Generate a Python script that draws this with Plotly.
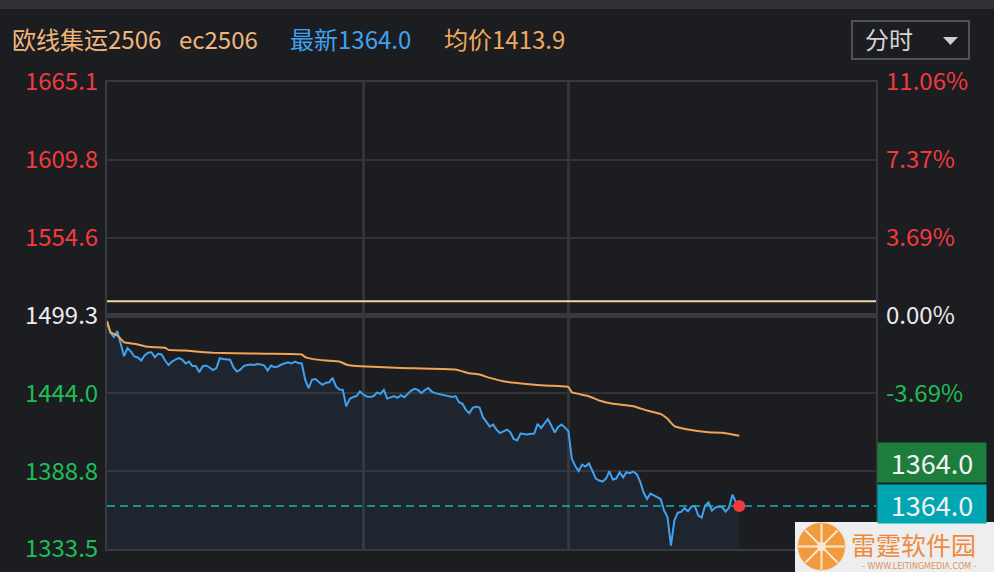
import plotly.graph_objects as go

# ---------------- data ----------------
minutes = list(range(0, 186))
price = [
    1495.0, 1487.2, 1484.0, 1488.3, 1479.4, 1470.4, 1476.2, 1473.7, 1470.2, 1469.5,
    1467.3, 1470.9, 1472.8, 1473.2, 1469.7, 1472.1, 1471.6, 1467.3, 1464.1, 1466.6,
    1468.0, 1469.0, 1468.0, 1465.2, 1466.6, 1463.4, 1463.4, 1459.0, 1463.3, 1463.8,
    1462.4, 1460.6, 1462.0, 1469.0, 1468.4, 1468.0, 1467.9, 1462.6, 1459.5, 1460.9,
    1463.4, 1464.1, 1464.5, 1464.1, 1464.8, 1464.6, 1463.8, 1460.2, 1463.8, 1462.6,
    1463.1, 1464.5, 1465.3, 1466.1, 1465.2, 1466.6, 1465.5, 1465.2, 1453.6, 1447.8,
    1453.8, 1454.2, 1452.1, 1450.1, 1451.5, 1451.9, 1455.0, 1448.9, 1446.7, 1446.5,
    1434.8, 1440.1, 1441.4, 1442.1, 1445.3, 1443.2, 1441.8, 1441.4, 1442.1, 1444.6,
    1443.7, 1446.5, 1440.3, 1441.0, 1442.1, 1440.8, 1442.7, 1441.3, 1443.9, 1446.0,
    1447.2, 1446.4, 1444.1, 1446.4, 1447.8, 1445.3, 1444.2, 1443.7, 1443.3, 1442.7,
    1441.8, 1441.4, 1442.1, 1437.7, 1436.6, 1432.3, 1430.0, 1433.7, 1434.7, 1434.0,
    1427.1, 1423.3, 1420.4, 1421.9, 1418.1, 1415.8, 1416.9, 1418.3, 1416.4, 1411.6,
    1410.5, 1415.5, 1415.1, 1414.8, 1415.3, 1415.5, 1422.4, 1419.4, 1422.6, 1425.8,
    1421.2, 1416.2, 1420.1, 1421.9, 1419.7, 1417.2, 1397.7, 1392.4, 1388.8, 1393.4,
    1392.0, 1394.2, 1389.2, 1383.5, 1382.1, 1381.4, 1383.5, 1388.7, 1382.8, 1383.5,
    1388.0, 1384.4, 1388.1, 1387.4, 1388.5, 1386.7, 1381.4, 1373.6, 1369.0, 1372.8,
    1371.5, 1370.0, 1369.0, 1360.8, 1356.2, 1335.9, 1353.7, 1359.3, 1359.8, 1362.5,
    1360.3, 1363.6, 1364.0, 1357.2, 1355.8, 1364.3, 1366.5, 1360.8, 1362.9, 1363.6,
    1363.3, 1360.1, 1362.9, 1372.1, 1366.7, 1364.0,
]
avg_minutes = [0, 1, 2, 3, 4, 5, 8, 11, 14, 17, 18, 23, 26, 31, 37, 47, 57, 58, 60, 64,
               68, 70, 72, 76, 86, 102, 106, 109, 112, 116, 122, 128, 134, 135, 136, 141,
               144, 148, 154, 158, 162, 164, 166, 170, 176, 180, 185]
avg_price = [1495.3, 1487.4, 1486.3, 1485.1, 1482.7, 1480.3, 1479.2, 1477.5, 1476.8, 1476.4,
             1474.9, 1474.4, 1473.7, 1472.8, 1472.5, 1472.1, 1471.6, 1469.7, 1468.5, 1467.3,
             1466.6, 1464.5, 1463.6, 1463.1, 1462.0, 1460.9, 1458.3, 1457.4, 1455.0, 1452.6,
             1450.8, 1449.6, 1448.9, 1448.5, 1444.8, 1442.0, 1438.9, 1436.6, 1434.9, 1431.8,
             1429.4, 1425.9, 1420.7, 1418.3, 1416.4, 1416.0, 1413.9]
ref_price = 1509.5
base_price = 1499.3
last_price = 1364.0
session_minutes = 225
session_breaks = [75, 135]
price_ticks = [1333.5, 1388.8, 1444.0, 1499.3, 1554.6, 1609.8, 1665.1]
price_tick_text = ["1333.5", "1388.8", "1444.0", "1499.3", "1554.6", "1609.8", "1665.1"]
pct_ticks = [1444.0, 1499.3, 1554.6, 1609.8, 1665.1]
pct_tick_text = ["-3.69%", "0.00%", "3.69%", "7.37%", "11.06%"]
header_name = "欧线集运2506"
header_code = "ec2506"
header_last = "最新1364.0"
header_avg = "均价1413.9"

# ---------------- style ----------------
BG = "#1c1d21"
GRID = "#333438"
RED = "#f23a3f"
GREEN = "#1cbf55"
WHITE = "#ececec"
BLUE = "#3fa2f0"
ORANGE = "#f0a455"
FONT = "Noto Sans CJK SC"

W, H = 994, 572
L, R, T, B = 107, 876, 82, 549


def px(x):
    return (x - L) / (R - L)


def py(y):
    return (B - y) / (B - T)


def col(v):
    if v > base_price + 0.01:
        return RED
    if v < base_price - 0.01:
        return GREEN
    return WHITE


left_text = [f"<span style='color:{col(v)}'>{t}</span>" for v, t in zip(price_ticks, price_tick_text)]
right_text = [f"<span style='color:{col(v)}'>{t}</span>" for v, t in zip(pct_ticks, pct_tick_text)]

fig = go.Figure()

fig.add_trace(go.Scatter(
    x=minutes, y=price, mode="lines",
    line=dict(color=BLUE, width=2),
    fill="tozeroy", fillcolor="rgba(55,95,150,0.12)",
    hoverinfo="skip", showlegend=False))
fig.add_trace(go.Scatter(
    x=avg_minutes, y=avg_price, mode="lines",
    line=dict(color=ORANGE, width=2, shape="spline", smoothing=0.3),
    hoverinfo="skip", showlegend=False))
fig.add_trace(go.Scatter(
    x=[0, session_minutes], y=[ref_price, ref_price], mode="lines",
    line=dict(color="#f6d3a4", width=2), yaxis="y2",
    hoverinfo="skip", showlegend=False))
fig.add_trace(go.Scatter(
    x=[0, session_minutes], y=[last_price, last_price], mode="lines",
    line=dict(color="#14b3be", width=1.6, dash="8px,5px"),
    hoverinfo="skip", showlegend=False))
fig.add_trace(go.Scatter(
    x=[minutes[-1]], y=[price[-1]], mode="markers",
    marker=dict(color="#f23a3f", size=12),
    hoverinfo="skip", showlegend=False))

shapes = []
# 0% baseline bar
shapes.append(dict(type="line", xref="x", yref="y", x0=0, x1=session_minutes,
                   y0=base_price, y1=base_price, layer="between",
                   line=dict(color="#393a3e", width=5)))
# top strip
shapes.append(dict(type="rect", xref="paper", yref="paper", x0=px(0), x1=px(W),
                   y0=py(9), y1=py(0), fillcolor="#303135", line=dict(width=0), layer="below"))
# dropdown box
shapes.append(dict(type="rect", xref="paper", yref="paper", x0=px(852), x1=px(969),
                   y0=py(59), y1=py(21), fillcolor="rgba(0,0,0,0)",
                   line=dict(color="#505155", width=2)))
shapes.append(dict(type="path", xref="paper", yref="paper",
                   path=f"M {px(943)},{py(37)} L {px(958)},{py(37)} L {px(950.5)},{py(45)} Z",
                   fillcolor="#cfcfcf", line=dict(width=0)))
# watermark
shapes.append(dict(type="rect", xref="paper", yref="paper", x0=px(795), x1=px(994),
                   y0=py(572), y1=py(522), fillcolor="#eceef0", line=dict(width=0)))
shapes.append(dict(type="circle", xref="paper", yref="paper", x0=px(798), x1=px(845),
                   y0=py(570), y1=py(523), fillcolor="#f29a3e", line=dict(color="#f6b060", width=1)))
cx, cy = 821.5, 546.5
for dx, dy in [(0, 23), (23, 0), (16, 16), (16, -16)]:
    shapes.append(dict(type="line", xref="paper", yref="paper",
                       x0=px(cx - dx), x1=px(cx + dx), y0=py(cy - dy), y1=py(cy + dy),
                       line=dict(color="#fbe7cf", width=2)))
shapes.append(dict(type="circle", xref="paper", yref="paper", x0=px(817), x1=px(826),
                   y0=py(551), y1=py(542), fillcolor="#fbe7cf", line=dict(width=0)))

annotations = []


def header(x, text, color, size=24):
    annotations.append(dict(xref="paper", yref="paper", x=px(x), y=py(39), xanchor="left",
                            yanchor="middle", text=text, showarrow=False,
                            font=dict(family=FONT, size=size, color=color)))


header(10, header_name, "#f0b57a")
header(177, header_code, "#f0b57a")
header(288, header_last, BLUE)
header(442, header_avg, "#f0a85e")
header(863, "分时", "#d4d4d4")

# price boxes
annotations.append(dict(xref="paper", yref="y", x=px(877), y=last_price, yshift=44,
                        xanchor="left", yanchor="middle", text="1364.0", showarrow=False,
                        bgcolor="#1d7d3d", width=104, height=35, borderpad=2,
                        font=dict(family=FONT, size=27, color="#f2f2f2")))
annotations.append(dict(xref="paper", yref="y", x=px(877), y=last_price, yshift=2,
                        xanchor="left", yanchor="middle", text="1364.0", showarrow=False,
                        bgcolor="#00a7b2", width=104, height=34, borderpad=2,
                        font=dict(family=FONT, size=27, color="#f2f2f2")))
annotations.append(dict(xref="paper", yref="paper", x=px(849), y=py(544), xanchor="left",
                        yanchor="middle", text="雷霆软件园", showarrow=False,
                        font=dict(family=FONT, size=25, color="#ef8a3c")))
annotations.append(dict(xref="paper", yref="paper", x=px(920), y=py(566), xanchor="center",
                        yanchor="middle", text="- WWW.LEITINGMEDIA.COM -", showarrow=False,
                        font=dict(family="DejaVu Sans", size=8, color="#e0925a")))

fig.update_layout(
    width=W, height=H,
    margin=dict(l=L, r=W - R, t=T, b=H - B, pad=0, autoexpand=False),
    paper_bgcolor=BG, plot_bgcolor=BG,
    showlegend=False,
    shapes=shapes, annotations=annotations,
    xaxis=dict(range=[0, session_minutes], tickvals=session_breaks, showticklabels=False,
               showgrid=True, gridcolor=GRID, gridwidth=3, zeroline=False, automargin=False,
               showline=True, linecolor="#38393d", linewidth=2, mirror=True, ticks=""),
    yaxis=dict(range=[price_ticks[0], price_ticks[-1]], tickvals=price_ticks, ticktext=left_text,
               showgrid=True, gridcolor=GRID, gridwidth=2, zeroline=False, automargin=False,
               showline=True, linecolor="#38393d", linewidth=2, mirror=True,
               ticks="", ticklabelstandoff=2,
               tickfont=dict(family=FONT, size=24, color=WHITE)),
    yaxis2=dict(range=[price_ticks[0], price_ticks[-1]], tickvals=pct_ticks, ticktext=right_text,
                overlaying="y", side="right", showgrid=False, zeroline=False, automargin=False,
                ticks="", ticklabelstandoff=9,
                tickfont=dict(family=FONT, size=24, color=WHITE)),
)

fig.write_html("out.html", config={"displayModeBar": False},
               post_script="document.body.style.margin='0px';document.body.style.background='#1c1d21';")
